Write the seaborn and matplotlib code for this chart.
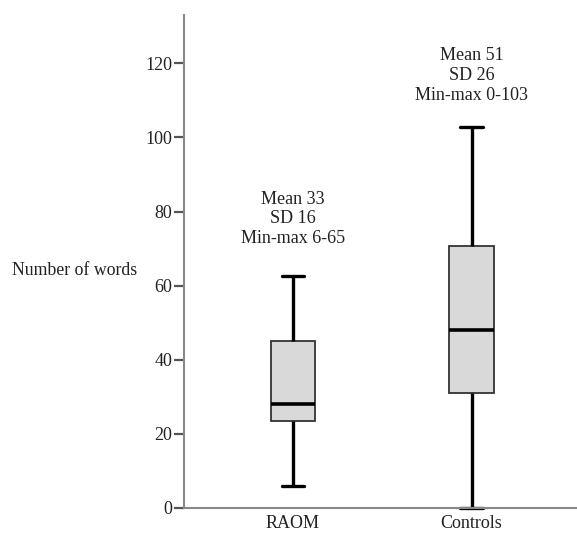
import numpy as np
import pandas as pd
import matplotlib
matplotlib.use("Agg")
import matplotlib.pyplot as plt
import seaborn as sns

# Five-number summaries: min, Q1, median, Q3, max
groups = ["RAOM", "Controls"]
raom_values = [6, 23.5, 28, 45, 62.5]
controls_values = [0, 31, 48, 70.8, 102.7]
annotations = ["Mean 33\nSD 16\nMin-max 6-65", "Mean 51\nSD 26\nMin-max 0-103"]
annotation_y = [78, 116.7]
yticks = [0, 20, 40, 60, 80, 100, 120]

df = pd.DataFrame({
    "group": ["RAOM"] * len(raom_values) + ["Controls"] * len(controls_values),
    "words": raom_values + controls_values,
})

sns.set_style("white")
plt.rcParams["font.family"] = ["Liberation Serif", "DejaVu Serif"]

fig = plt.figure(figsize=(5.77, 5.40), dpi=100)
ax = fig.add_axes([0.319, 0.0593, 0.681, 0.9127])

sns.boxplot(data=df, x="group", y="words", order=groups, ax=ax,
            whis=(0, 100), width=0.25, color="#d9d9d9", linecolor="black",
            linewidth=1.3, saturation=1,
            boxprops=dict(edgecolor="#333333", linewidth=1.3),
            medianprops=dict(color="black", linewidth=2.6),
            whiskerprops=dict(color="black", linewidth=2.4),
            capprops=dict(color="black", linewidth=2.4, clip_on=False),
            showfliers=False)

for i, (txt, yv) in enumerate(zip(annotations, annotation_y)):
    ax.text(i, yv, txt, ha="center", va="center", fontsize=13,
            color="#222222", linespacing=1.2)

ax.set_xlim(-0.61, 1.59)
ax.set_ylim(0, 133)
ax.set_yticks(yticks)
ax.set_yticklabels([str(t) for t in yticks], fontsize=13, color="#222222")
ax.tick_params(axis="y", direction="out", length=7.5, width=1.6, color="#555555", pad=1, left=True)
ax.tick_params(axis="x", length=0, labelsize=13, labelcolor="#222222", pad=5)
ax.set_xlabel("")
ax.set_ylabel("Number of words", rotation=0, fontsize=12.8, color="#222222",
              ha="right", va="center")
ax.yaxis.set_label_coords(-0.12, 0.5 - (270 - 261.5) / 493)

for s in ["top", "right"]:
    ax.spines[s].set_visible(False)
for s in ["left", "bottom"]:
    ax.spines[s].set_color("#888888")
    ax.spines[s].set_linewidth(1.5)

fig.savefig("out.png", dpi=100, facecolor="white")
